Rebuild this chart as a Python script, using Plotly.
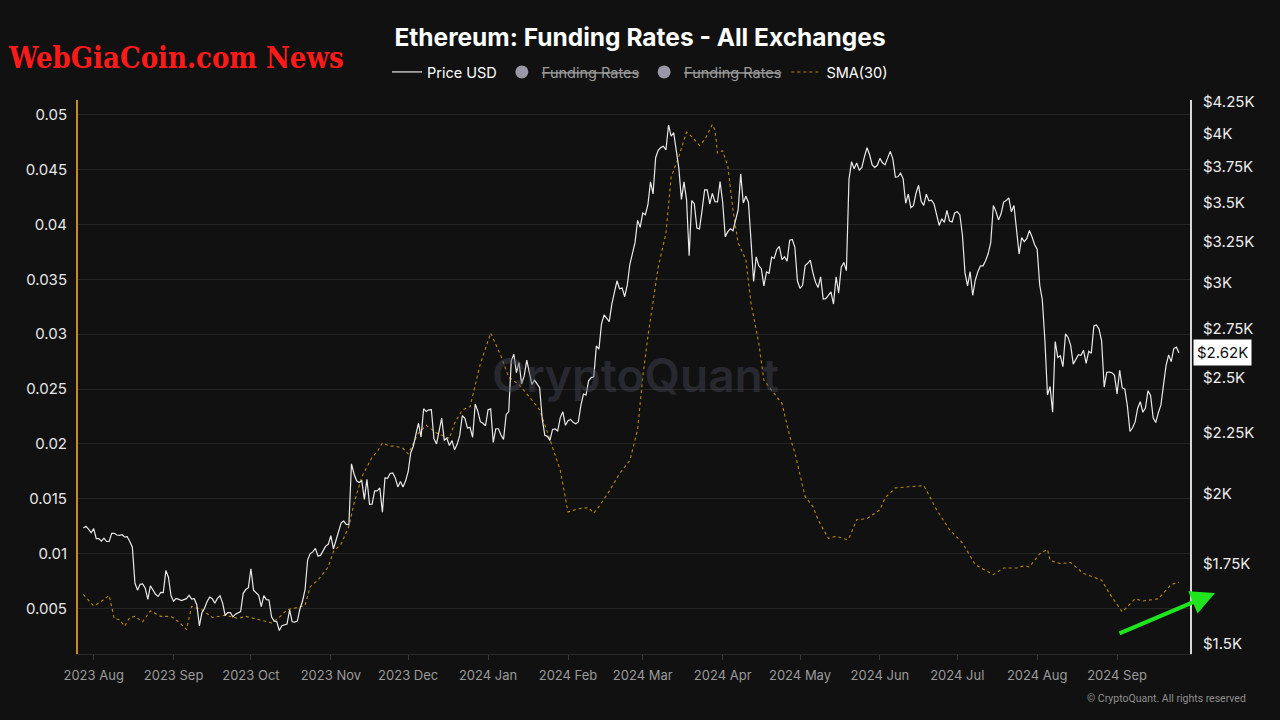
import math
import pandas as pd
import plotly.graph_objects as go

# ---------------- data ----------------
# ETH daily price (USD), 2023-07-28 .. 2024-09-25
jul23 = [1874, 1880, 1870, 1857]
aug23 = [1872, 1836, 1836, 1827, 1838, 1826, 1826, 1855, 1855, 1849, 1848, 1850, 1842, 1843, 1826, 1806,
         1686, 1663, 1682, 1683, 1669, 1634, 1677, 1662, 1650, 1643, 1656, 1655, 1727, 1705, 1645]
sep23 = [1628, 1637, 1634, 1630, 1633, 1636, 1647, 1635, 1636, 1617, 1553, 1593, 1606, 1627, 1641, 1636,
         1622, 1637, 1645, 1623, 1584, 1593, 1593, 1580, 1588, 1593, 1596, 1653, 1665, 1671]
oct23 = [1733, 1663, 1656, 1647, 1611, 1646, 1633, 1632, 1580, 1567, 1566, 1539, 1553, 1556, 1558, 1601,
         1565, 1564, 1567, 1604, 1628, 1665, 1763, 1784, 1790, 1802, 1776, 1778, 1794, 1810, 1816]
nov23 = [1847, 1800, 1833, 1857, 1893, 1899, 1887, 1886, 2120, 2079, 2052, 2045, 2052, 1980, 2058, 1961,
         1962, 2013, 2013, 2024, 1932, 2063, 2062, 2081, 2083, 2063, 2028, 2049, 2028, 2052]
dec23 = [2088, 2166, 2193, 2243, 2292, 2232, 2357, 2344, 2352, 2353, 2225, 2203, 2260, 2315, 2219, 2227,
         2196, 2217, 2178, 2201, 2239, 2326, 2314, 2271, 2274, 2231, 2378, 2346, 2299, 2292, 2281]
jan24 = [2352, 2356, 2209, 2268, 2268, 2241, 2222, 2330, 2344, 2585, 2617, 2526, 2576, 2472, 2510, 2588,
         2527, 2469, 2490, 2471, 2454, 2311, 2239, 2235, 2218, 2265, 2267, 2258, 2317, 2343, 2283]
feb24 = [2303, 2309, 2296, 2290, 2298, 2372, 2424, 2420, 2487, 2502, 2506, 2659, 2643, 2774, 2823, 2803,
         2786, 2882, 2944, 3014, 2968, 2972, 2923, 2990, 3111, 3174, 3243, 3385, 3340]
mar24 = [3433, 3421, 3488, 3645, 3561, 3818, 3873, 3893, 3903, 3876, 4066, 3979, 4006, 3882, 3742, 3524,
         3645, 3519, 3162, 3516, 3495, 3336, 3330, 3449, 3589, 3589, 3494, 3565, 3509, 3507, 3647]
apr24 = [3505, 3281, 3312, 3331, 3318, 3391, 3454, 3701, 3500, 3545, 3505, 3255, 3010, 3156, 3103, 3085,
         2985, 3066, 3057, 3154, 3147, 3201, 3219, 3139, 3156, 3130, 3258, 3263, 3216, 3014]
may24 = [2970, 2988, 3103, 3117, 3136, 3062, 3006, 2975, 3037, 2910, 2912, 2930, 2950, 2882, 3037, 2945,
         3093, 3122, 3073, 3663, 3789, 3738, 3780, 3728, 3748, 3826, 3892, 3840, 3766, 3748, 3763]
jun24 = [3813, 3781, 3766, 3811, 3865, 3812, 3679, 3681, 3706, 3667, 3498, 3560, 3469, 3482, 3566, 3621,
         3511, 3484, 3560, 3515, 3519, 3493, 3420, 3352, 3395, 3372, 3450, 3380, 3375, 3433]
jul24 = [3441, 3422, 3293, 3060, 2985, 3067, 2930, 3017, 3067, 3102, 3102, 3132, 3176, 3245, 3483, 3444,
         3388, 3428, 3506, 3516, 3535, 3441, 3483, 3336, 3173, 3275, 3249, 3270, 3320, 3280, 3232]
aug24 = [3202, 2988, 2906, 2688, 2420, 2460, 2341, 2682, 2601, 2610, 2555, 2722, 2703, 2662, 2568, 2592,
         2615, 2612, 2637, 2571, 2632, 2622, 2763, 2768, 2747, 2685, 2457, 2528, 2529, 2526, 2513]
sep24 = [2425, 2538, 2453, 2448, 2370, 2256, 2272, 2298, 2359, 2389, 2341, 2360, 2440, 2418, 2316, 2295,
         2339, 2373, 2466, 2560, 2614, 2580, 2646, 2653, 2624]

price_start = "2023-07-28"
price_usd = (jul23 + aug23 + sep23 + oct23 + nov23 + dec23 + jan24 + feb24 + mar24 + apr24 +
             may24 + jun24 + jul24 + aug24 + sep24)
price_dates = pd.date_range(price_start, periods=len(price_usd), freq="D")

# Funding rate SMA(30)
sma_dates = [
    "2023-07-28", "2023-08-01", "2023-08-03", "2023-08-07", "2023-08-09", "2023-08-11", "2023-08-13",
    "2023-08-15", "2023-08-17", "2023-08-20", "2023-08-23", "2023-08-27", "2023-08-31", "2023-09-03",
    "2023-09-06", "2023-09-08", "2023-09-12", "2023-09-16", "2023-09-21", "2023-09-26", "2023-09-29",
    "2023-10-04", "2023-10-09", "2023-10-12", "2023-10-15", "2023-10-19", "2023-10-22", "2023-10-24",
    "2023-10-27", "2023-10-31", "2023-11-02", "2023-11-05", "2023-11-07", "2023-11-08", "2023-11-10",
    "2023-11-13", "2023-11-15", "2023-11-17", "2023-11-19", "2023-11-21", "2023-11-24", "2023-11-26",
    "2023-11-29", "2023-12-01", "2023-12-05", "2023-12-08", "2023-12-12", "2023-12-17", "2023-12-19",
    "2023-12-22", "2023-12-25", "2023-12-29", "2024-01-02", "2024-01-06", "2024-01-09", "2024-01-13",
    "2024-01-17", "2024-01-21", "2024-01-25", "2024-01-29", "2024-02-01", "2024-02-05", "2024-02-09",
    "2024-02-11", "2024-02-13", "2024-02-17", "2024-02-21", "2024-02-25", "2024-02-28", "2024-03-01",
    "2024-03-03", "2024-03-05", "2024-03-07", "2024-03-10", "2024-03-12", "2024-03-15", "2024-03-18",
    "2024-03-20", "2024-03-23", "2024-03-25", "2024-03-28", "2024-03-29", "2024-03-30", "2024-04-01",
    "2024-04-03", "2024-04-05", "2024-04-07", "2024-04-10", "2024-04-12", "2024-04-15", "2024-04-17",
    "2024-04-21", "2024-04-24", "2024-04-27", "2024-04-29", "2024-05-03", "2024-05-06", "2024-05-08",
    "2024-05-12", "2024-05-15", "2024-05-19", "2024-05-20", "2024-05-23", "2024-05-27", "2024-06-01",
    "2024-06-03", "2024-06-07", "2024-06-12", "2024-06-18", "2024-06-19", "2024-06-23", "2024-06-28",
    "2024-07-03", "2024-07-08", "2024-07-15", "2024-07-19", "2024-07-24", "2024-07-27", "2024-07-29",
    "2024-08-02", "2024-08-05", "2024-08-06", "2024-08-10", "2024-08-14", "2024-08-19", "2024-08-26",
    "2024-08-29", "2024-09-03", "2024-09-08", "2024-09-11", "2024-09-17", "2024-09-22", "2024-09-25",
]
sma_30 = [
    0.0063, 0.00525, 0.0055, 0.0062, 0.0041, 0.0040, 0.0034,
    0.0042, 0.0043, 0.0038, 0.0048, 0.0043, 0.0043, 0.0038,
    0.0031, 0.0052, 0.0049, 0.0042, 0.0044, 0.0041, 0.0043,
    0.0040, 0.0037, 0.0042, 0.0049, 0.0051, 0.0053, 0.0070,
    0.0076, 0.0088, 0.0102, 0.0109, 0.0119, 0.0125, 0.0146,
    0.0170, 0.0179, 0.0188, 0.0193, 0.0201, 0.0198, 0.0198,
    0.0196, 0.0191, 0.0210, 0.0217, 0.0210, 0.0205, 0.0219,
    0.0231, 0.0234, 0.0273, 0.0301, 0.0280, 0.0261, 0.0254,
    0.0243, 0.0231, 0.0204, 0.0176, 0.0138, 0.0141, 0.0142,
    0.0137, 0.0143, 0.0157, 0.0173, 0.0185, 0.0213, 0.0261,
    0.0298, 0.0328, 0.0361, 0.0392, 0.0443, 0.0462, 0.0484,
    0.0480, 0.0472, 0.0477, 0.0491, 0.0486, 0.0465, 0.0467,
    0.0453, 0.0413, 0.0383, 0.0368, 0.0328, 0.0292, 0.0258,
    0.0246, 0.0237, 0.0207, 0.0192, 0.0152, 0.0143, 0.0131,
    0.0114, 0.0116, 0.0113, 0.0114, 0.0131, 0.0132, 0.0140,
    0.0151, 0.0160, 0.0161, 0.0162, 0.0158, 0.0140, 0.0122,
    0.0110, 0.0090, 0.0081, 0.0087, 0.0087, 0.0089, 0.0088,
    0.0100, 0.0104, 0.0094, 0.0091, 0.0092, 0.0082, 0.0076,
    0.0064, 0.0047, 0.0059, 0.0057, 0.0059, 0.0072, 0.0074,
]

left_ticks = [0.005, 0.01, 0.015, 0.02, 0.025, 0.03, 0.035, 0.04, 0.045, 0.05]
left_tick_text = ["0.005", "0.01", "0.015", "0.02", "0.025", "0.03", "0.035", "0.04", "0.045", "0.05"]
right_ticks = [1500, 1750, 2000, 2250, 2500, 2750, 3000, 3250, 3500, 3750, 4000, 4250]
right_tick_text = ["$1.5K", "$1.75K", "$2K", "$2.25K", "$2.5K", "$2.75K", "$3K", "$3.25K",
                   "$3.5K", "$3.75K", "$4K", "$4.25K"]

# ---------------- figure ----------------
BG = "#111111"
ORANGE = "#c98b1c"
FONT = "Inter"
PL, PR, PT, PB = 78, 1190, 100, 654          # plot area in page pixels
PW, PH = PR - PL, PB - PT


def px_x(x):
    return (x - PL) / PW


def px_y(y):
    return (PB - y) / PH


fig = go.Figure()

fig.add_trace(go.Scatter(
    x=price_dates, y=price_usd, name="Price USD", yaxis="y2", mode="lines",
    line=dict(color="#e9e9e9", width=1.2),
))
for _ in range(2):
    fig.add_trace(go.Scatter(
        x=[None], y=[None], mode="markers",
        name='<span style="color:#9b9b9b"><s>Funding Rates</s></span>',
        marker=dict(color="#9a98a6", size=13, symbol="circle"),
    ))
fig.add_trace(go.Scatter(
    x=sma_dates, y=sma_30, name="SMA(30)", yaxis="y", mode="lines",
    line=dict(color="#b8860b", width=1.1, dash="dot"),
))

last_price = price_usd[-1]

fig.update_layout(
    width=1280, height=720,
    paper_bgcolor=BG, plot_bgcolor=BG,
    margin=dict(l=PL, r=1280 - PR, t=PT, b=720 - PB, autoexpand=False),
    showlegend=True,
    hovermode=False,
    font=dict(family=FONT, color="#e6e6e6", size=15),
    title=dict(
        text="<b>Ethereum: Funding Rates - All Exchanges</b>",
        x=0.5, xref="container", xanchor="center",
        y=1 - 37 / 720, yref="container", yanchor="middle",
        font=dict(family=FONT, size=24.5, color="#ffffff"),
    ),
    legend=dict(
        orientation="h", xref="container", x=0.5, xanchor="center",
        yref="container", y=1 - 72 / 720, yanchor="middle",
        font=dict(family=FONT, size=14.5, color="#ffffff"),
        bgcolor="rgba(0,0,0,0)", itemwidth=30,
    ),
    xaxis=dict(
        range=["2023-07-25 22:00", "2024-09-29 07:00"],
        tickformat="%Y %b", dtick="M1", tick0="2023-08-01",
        showgrid=False, zeroline=False,
        ticks="outside", ticklen=5, tickcolor="#3a3a3a",
        showline=True, linecolor="#2a2a2a", linewidth=1,
        ticklabelstandoff=4,
        tickfont=dict(family=FONT, size=13, color="#9a9a9a"),
    ),
    yaxis=dict(
        range=[0.00087, 0.05133],
        tickvals=left_ticks, ticktext=left_tick_text,
        showgrid=True, gridcolor="#252525", gridwidth=1, zeroline=False,
        showline=True, linecolor=ORANGE, linewidth=2,
        ticklabelstandoff=6,
        tickfont=dict(family=FONT, size=15, color="#e6e6e6"),
    ),
    yaxis2=dict(
        type="log", overlaying="y", side="right",
        range=[math.log10(1471), math.log10(4266)],
        tickvals=right_ticks, ticktext=right_tick_text,
        showgrid=False, zeroline=False,
        showline=True, linecolor="#d8d8d8", linewidth=2,
        ticklabelstandoff=8,
        tickfont=dict(family=FONT, size=15, color="#ececec"),
    ),
)

# current price tag on the right axis
fig.add_annotation(
    x=1.0, xref="paper", xanchor="left", xshift=3,
    y=math.log10(last_price), yref="y2", yanchor="middle",
    text=f"${last_price / 1000:.2f}K", showarrow=False,
    font=dict(family=FONT, size=15, color="#111111"),
    bgcolor="#ffffff", borderpad=3,
)

# watermark
fig.add_annotation(
    x=px_x(635), y=px_y(375), xref="paper", yref="paper", text="CryptoQuant", showarrow=False,
    font=dict(family=FONT, size=46, color="rgba(70,70,88,0.45)", weight=600),
)

# site logo
fig.add_annotation(
    x=px_x(6), y=px_y(58), xref="paper", yref="paper", text="<b>WebGiaCoin.com News</b>",
    showarrow=False, xanchor="left", yanchor="middle",
    font=dict(family="DejaVu Serif Condensed", size=29, color="#ff1a1a"),
)

# copyright
fig.add_annotation(
    x=px_x(1248), y=px_y(698), xref="paper", yref="paper",
    text="© CryptoQuant. All rights reserved", showarrow=False,
    xanchor="right", yanchor="middle",
    font=dict(family="Roboto", size=10.5, color="#8f8f8f"),
)

# green arrow
fig.add_annotation(
    x=px_x(1215), y=px_y(593), xref="paper", yref="paper",
    ax=-97, ay=41, text="", showarrow=True,
    arrowhead=2, arrowsize=1.2, arrowwidth=4, arrowcolor="#1ee51e",
)

fig.write_html(
    "out.html",
    config={"displayModeBar": False},
    post_script="document.body.style.margin='0';document.body.style.overflow='hidden';"
                "document.body.style.background='#111111';",
)
